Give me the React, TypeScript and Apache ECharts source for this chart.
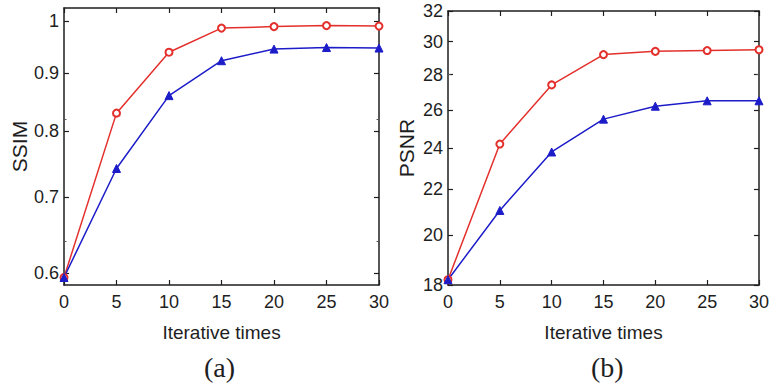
import React, { useEffect, useRef } from "react";
import * as echarts from "echarts";

const iterations = [0, 5, 10, 15, 20, 25, 30];
const ssimRed = [0.595, 0.83, 0.939, 0.986, 0.989, 0.991, 0.99];
const ssimBlue = [0.595, 0.742, 0.86, 0.923, 0.945, 0.948, 0.947];
const psnrRed = [18.2, 24.2, 27.4, 29.2, 29.4, 29.45, 29.5];
const psnrBlue = [18.2, 21.05, 23.8, 25.5, 26.2, 26.5, 26.5];
const ssimTicks = [0.6, 0.7, 0.8, 0.9, 1];
const psnrTicks = [18, 20, 22, 24, 26, 28, 30, 32];
const xTicks = [0, 5, 10, 15, 20, 25, 30];

const RED = "#e3302c";
const BLUE = "#1c1cc8";
const INK = "#1e1e1e";
const FONT = "Liberation Sans";

const pairs = (ys: number[]) => iterations.map((x, i) => [x, ys[i]]);

export default function App() {
  const ref = useRef<HTMLDivElement>(null);
  useEffect(() => {
    if (!ref.current) return;
    const chart = echarts.init(ref.current, undefined, { renderer: "svg" });
    const line = { color: INK, width: 1.5 };
    const xBase = (gridIndex: number, top: boolean) => ({
      type: "value",
      gridIndex,
      position: top ? "top" : "bottom",
      min: 0,
      max: 30,
      interval: 5,
      axisLine: { show: true, onZero: false, lineStyle: line },
      axisTick: { show: true, inside: true, length: 5, lineStyle: { color: INK, width: 1.2 } },
      splitLine: { show: false },
      axisLabel: top
        ? { show: false }
        : { show: true, customValues: xTicks, color: INK, fontSize: 18, fontFamily: FONT, margin: 8 },
      name: top ? "" : "Iterative times",
      nameLocation: "middle",
      nameGap: 38,
      nameTextStyle: { color: INK, fontSize: 19, fontFamily: FONT },
    });
    const yBase = (gridIndex: number, right: boolean, min: number, max: number, ticks: number[], name: string) => ({
      type: "log",
      logBase: 10,
      gridIndex,
      position: right ? "right" : "left",
      min,
      max,
      axisLine: { show: true, onZero: false, lineStyle: line },
      axisTick: { show: true, inside: true, length: 5, customValues: ticks, lineStyle: { color: INK, width: 1.2 } },
      minorTick: { show: true, splitNumber: 5, length: 2.5, lineStyle: { color: "#555" } },
      splitLine: { show: false },
      axisLabel: right
        ? { show: false }
        : { show: true, customValues: ticks, color: INK, fontSize: 18, fontFamily: FONT, margin: 5 },
      name: right ? "" : name,
      nameLocation: "middle",
      nameGap: name === "SSIM" ? 34 : 31,
      nameTextStyle: { color: INK, fontSize: 21, fontFamily: FONT },
    });
    const series = (xi: number, ys: number[], color: string, symbol: string, filled: boolean) => ({
      type: "line",
      xAxisIndex: xi,
      yAxisIndex: xi,
      data: pairs(ys),
      symbol,
      symbolSize: filled ? 8 : 7,
      showSymbol: true,
      lineStyle: { color, width: 1.5 },
      itemStyle: filled ? { color, borderColor: color } : { color, borderColor: color, borderWidth: 1.3 },
      z: 3,
    });
    chart.setOption({
      animation: false,
      backgroundColor: "#ffffff",
      grid: [
        { left: 64, top: 8, width: 315, height: 277 },
        { left: 448, top: 11, width: 314, height: 274 },
      ],
      xAxis: [xBase(0, false), xBase(1, false), xBase(0, true), xBase(1, true)],
      yAxis: [
        yBase(0, false, 0.586, 1.027, ssimTicks, "SSIM"),
        yBase(1, false, 18, 32, psnrTicks, "PSNR"),
        yBase(0, true, 0.586, 1.027, ssimTicks, ""),
        yBase(1, true, 18, 32, psnrTicks, ""),
      ],
      series: [
        series(0, ssimRed, RED, "emptyCircle", false),
        series(0, ssimBlue, BLUE, "triangle", true),
        series(1, psnrRed, RED, "emptyCircle", false),
        series(1, psnrBlue, BLUE, "triangle", true),
      ],
      graphic: [
        { type: "text", left: 204, top: 353, style: { text: "(a)", fontSize: 28, fontFamily: "Liberation Serif", fill: INK } },
        { type: "text", left: 591, top: 353, style: { text: "(b)", fontSize: 28, fontFamily: "Liberation Serif", fill: INK } },
      ],
    });
    return () => chart.dispose();
  }, []);
  return <div ref={ref} style={{ position: "fixed", left: 0, top: 0, width: 772, height: 387, background: "#fff" }} />;
}
